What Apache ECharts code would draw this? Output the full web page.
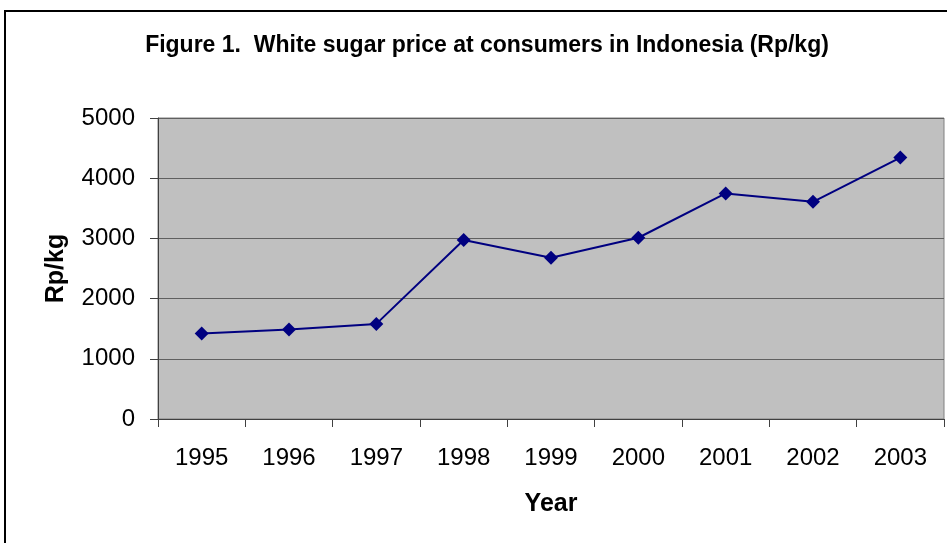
<!DOCTYPE html>
<html>
<head>
<meta charset="utf-8">
<script src="https://cdn.jsdelivr.net/npm/echarts@6/dist/echarts.min.js"></script>
<style>
html,body{margin:0;padding:0;background:#fff;}
#c{width:947px;height:543px;}
</style>
</head>
<body>
<div id="c"></div>
<script>
const years = ['1995','1996','1997','1998','1999','2000','2001','2002','2003'];
const prices = [1420, 1485, 1580, 2973, 2680, 3011, 3747, 3608, 4343];
const yTicks = [0, 1000, 2000, 3000, 4000, 5000];
const titleText = 'Figure 1.  White sugar price at consumers in Indonesia (Rp/kg)';

const FONT = '"Liberation Sans", Arial, sans-serif';
const chart = echarts.init(document.getElementById('c'), null, {renderer: 'canvas'});
chart.setOption({
  backgroundColor: '#ffffff',
  animation: false,
  textStyle: {fontFamily: FONT},
  graphic: [
    {type: 'rect', shape: {x: 5, y: 11, width: 1100, height: 1100},
     style: {fill: 'none', stroke: '#000', lineWidth: 2}, z: 100},
    {type: 'text', x: 487, y: 46,
     style: {text: titleText, font: 'bold 23px ' + FONT, fill: '#000',
             textAlign: 'center', textVerticalAlign: 'middle'}}
  ],
  grid: {left: 158, top: 118, right: 3, bottom: 124, show: true,
         backgroundColor: '#C0C0C0', borderColor: '#808080', borderWidth: 1},
  xAxis: {
    type: 'category', data: years, boundaryGap: true,
    name: 'Year', nameLocation: 'middle', nameGap: 73,
    nameTextStyle: {fontSize: 25, fontWeight: 'bold', color: '#000', fontFamily: FONT},
    axisLine: {lineStyle: {color: '#404040', width: 1}},
    axisTick: {show: true, length: 8, alignWithLabel: false, lineStyle: {color: '#404040'}},
    axisLabel: {fontSize: 24, color: '#000', margin: 27, fontFamily: FONT},
    splitLine: {show: false}
  },
  yAxis: {
    type: 'value', min: 0, max: 5000, interval: 1000,
    name: 'Rp/kg', nameLocation: 'middle', nameGap: 89, nameRotate: 90,
    nameTextStyle: {fontSize: 25, fontWeight: 'bold', color: '#000', fontFamily: FONT},
    axisLine: {show: true, lineStyle: {color: '#404040', width: 1}},
    axisTick: {show: true, length: 8, lineStyle: {color: '#404040'}},
    axisLabel: {fontSize: 24, color: '#000', margin: 23, fontFamily: FONT,
                formatter: v => yTicks.includes(v) ? String(v) : ''},
    splitLine: {show: true, lineStyle: {color: '#606060', width: 1}}
  },
  series: [{
    type: 'line', data: prices,
    symbol: 'diamond', symbolSize: 14, showSymbol: true,
    lineStyle: {color: '#000080', width: 2},
    itemStyle: {color: '#000080'}
  }]
});
</script>
</body>
</html>
